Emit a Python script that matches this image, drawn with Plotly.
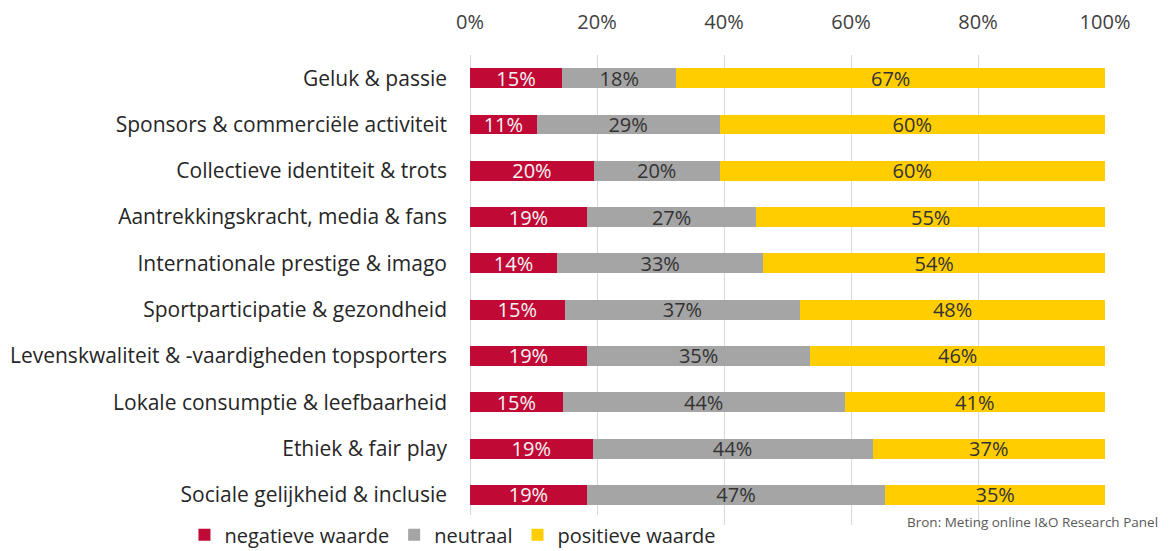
import plotly.graph_objects as go

categories = [
    "Geluk & passie",
    "Sponsors & commerciële activiteit",
    "Collectieve identiteit & trots",
    "Aantrekkingskracht, media & fans",
    "Internationale prestige & imago",
    "Sportparticipatie & gezondheid",
    "Levenskwaliteit & -vaardigheden topsporters",
    "Lokale consumptie & leefbaarheid",
    "Ethiek & fair play",
    "Sociale gelijkheid & inclusie",
]
negatief = [14.5, 10.5, 19.5, 18.4, 13.7, 14.9, 18.4, 14.6, 19.3, 18.4]
neutraal = [18.0, 28.8, 19.8, 26.7, 32.5, 37.1, 35.2, 44.4, 44.1, 47.0]
positief = [67.5, 60.7, 60.7, 54.9, 53.8, 48.0, 46.4, 41.0, 36.6, 34.6]
neg_labels = ["15%", "11%", "20%", "19%", "14%", "15%", "19%", "15%", "19%", "19%"]
neu_labels = ["18%", "29%", "20%", "27%", "33%", "37%", "35%", "44%", "44%", "47%"]
pos_labels = ["67%", "60%", "60%", "55%", "54%", "48%", "46%", "41%", "37%", "35%"]
tick_vals = [0, 20, 40, 60, 80, 100]
tick_text = ["0%", "20%", "40%", "60%", "80%", "100%"]

FONT = "Open Sans"
series = [
    ("negatieve waarde", negatief, neg_labels, "#C00A35", "#F5F5F5"),
    ("neutraal", neutraal, neu_labels, "#A5A5A5", "#333333"),
    ("positieve waarde", positief, pos_labels, "#FFCD00", "#333333"),
]

fig = go.Figure()
for name, vals, labels, color, tcolor in series:
    fig.add_trace(go.Bar(
        y=categories, x=vals, name=name, orientation="h",
        marker=dict(color=color, line=dict(width=0)),
        text=labels, textposition="inside", insidetextanchor="middle",
        textangle=0, constraintext="none",
        textfont=dict(family=FONT, size=20, color=tcolor),
        width=0.43,
    ))

fig.update_layout(
    barmode="stack",
    width=1161, height=543,
    margin=dict(l=462, r=64, t=47, b=26, autoexpand=False),
    paper_bgcolor="white", plot_bgcolor="white",
    font=dict(family=FONT, color="#262626"),
    legend=dict(
        orientation="h", xref="container", yref="paper",
        x=0.152, y=-0.021, xanchor="left", yanchor="middle",
        font=dict(family=FONT, size=20, color="#262626"),
        traceorder="normal", itemwidth=30,
    ),
    xaxis=dict(
        side="top", range=[0, 100], tickvals=tick_vals, ticktext=tick_text,
        showgrid=True, gridcolor="#D9D9D9", gridwidth=1,
        zeroline=True, zerolinecolor="#D9D9D9", zerolinewidth=1,
        tickfont=dict(family=FONT, size=20, color="#404040"),
        ticklabelstandoff=21, showline=False, fixedrange=True,
        automargin=False,
    ),
    yaxis=dict(
        range=[9.65, -0.5], categoryorder="array", categoryarray=categories,
        tickfont=dict(family=FONT, size=21, color="#262626"),
        ticklabelstandoff=22, showgrid=False, showline=False,
        automargin=False,
    ),
    annotations=[dict(
        text="Bron: Meting online I&amp;O Research Panel",
        xref="paper", yref="paper", x=1.086, y=0.0064,
        xanchor="right", yanchor="middle", showarrow=False,
        font=dict(family=FONT, size=13.5, color="#595959"),
    )],
)

fig.write_html("out.html")
